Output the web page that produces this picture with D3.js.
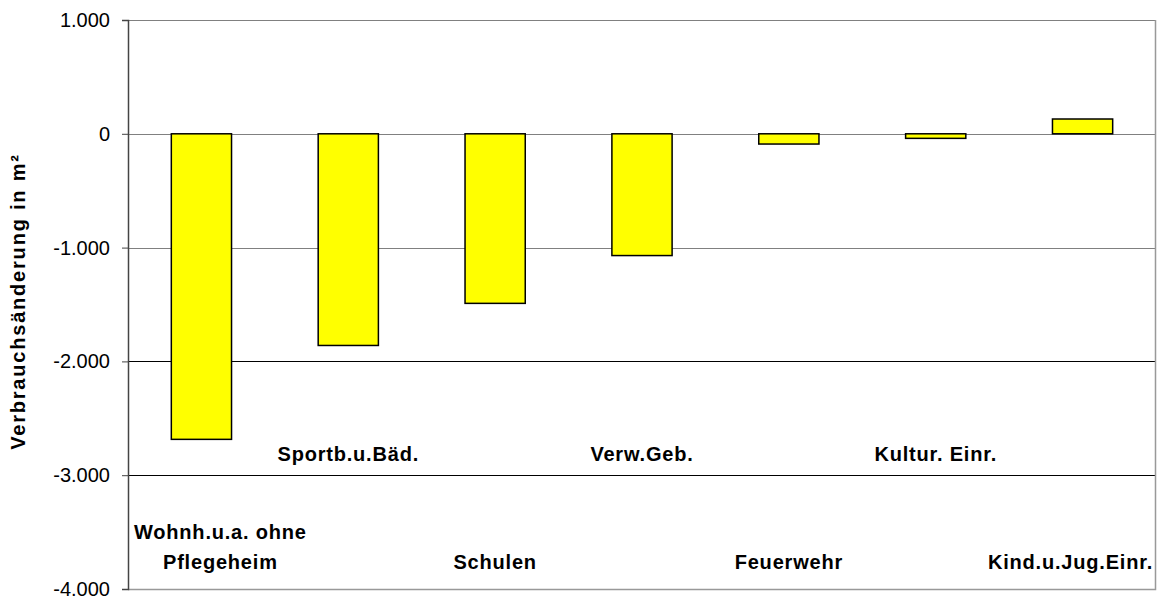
<!DOCTYPE html>
<html>
<head>
<meta charset="utf-8">
<script src="https://cdn.jsdelivr.net/npm/d3@7"></script>
<style>
  body { margin: 0; background: #fff; }
  text { font-family: "Liberation Sans", Arial, sans-serif; }
</style>
</head>
<body>
<div id="chart"></div>
<script>
const categories = [
    ["Wohnh.u.a. ohne", "Pflegeheim"],
    ["Sportb.u.Bäd."],
    ["Schulen"],
    ["Verw.Geb."],
    ["Feuerwehr"],
    ["Kultur. Einr."],
    ["Kind.u.Jug.Einr."]
];
const values = [-2685, -1860, -1490, -1070, -90, -40, 130];
const yTicks = [1000, 0, -1000, -2000, -3000, -4000];

const W = 1160, H = 599;
const margin = { top: 20, right: 4, bottom: 10, left: 128 };
const width = W - margin.left - margin.right;
const height = H - margin.top - margin.bottom;

const svg = d3.select("#chart")
    .append("svg")
    .attr("width", W)
    .attr("height", H);

const g = svg.append("g")
    .attr("transform", `translate(${margin.left},${margin.top})`);

const x = d3.scaleBand()
    .domain(d3.range(categories.length))
    .range([0, width])
    .paddingInner(0.59)
    .paddingOuter(0.295);

const y = d3.scaleLinear()
    .domain([-4000, 1000])
    .range([height, 0]);

const fmt = d3.formatLocale({ decimal: ",", thousands: ".", grouping: [3], currency: ["", "€"], minus: "-" }).format(",.0f");

// gridlines
g.selectAll(".grid")
    .data(yTicks.filter(d => d > -4000))
    .enter()
    .append("line")
    .attr("x1", 0)
    .attr("x2", width)
    .attr("y1", d => Math.round(y(d)) + 0.5)
    .attr("y2", d => Math.round(y(d)) + 0.5)
    .attr("stroke", d => d >= -1000 ? "#808080" : "#000")
    .attr("stroke-width", 1);

// plot border (right + bottom)
g.append("path")
    .attr("d", `M${width - 0.5},0V${Math.round(height) + 0.5}H0`)
    .attr("fill", "none")
    .attr("stroke", "#999")
    .attr("stroke-width", 1.5);

// bars
g.selectAll(".bar")
    .data(values)
    .enter()
    .append("rect")
    .attr("class", "bar")
    .attr("x", (d, i) => x(i))
    .attr("width", x.bandwidth())
    .attr("y", d => y(Math.max(0, d)))
    .attr("height", d => Math.abs(y(d) - y(0)))
    .attr("fill", "#ffff00")
    .attr("stroke", "#000")
    .attr("stroke-width", 1.5);

// y axis
const yAxis = d3.axisLeft(y)
    .tickValues(yTicks)
    .tickSize(6)
    .tickPadding(12)
    .tickFormat(d => fmt(d));

const ya = g.append("g").call(yAxis);
ya.select(".domain").attr("stroke", "#444").attr("stroke-width", 1.5);
ya.selectAll(".tick line").attr("stroke", "#444");
ya.selectAll(".tick text")
    .attr("font-size", 20)
    .attr("font-family", "Liberation Sans, Arial, sans-serif")
    .attr("fill", "#000");

// category labels (staggered like the original)
const lineH = 30;
categories.forEach((lines, i) => {
    const cx = x(i) + x.bandwidth() / 2;
    const lower = i % 2 === 0;
    const lastBase = lower ? 549 : 441;
    const t = g.append("text")
        .attr("text-anchor", "middle")
        .attr("font-size", 20)
        .attr("font-weight", "bold")
        .attr("letter-spacing", 0.8)
        .attr("fill", "#000");
    lines.forEach((ln, j) => {
        t.append("tspan")
            .attr("x", cx)
            .attr("y", lastBase - (lines.length - 1 - j) * lineH)
            .text(ln);
    });
    // keep label inside the plot area
    const bb = t.node().getBBox();
    let shift = 0;
    if (bb.x < 6) shift = 6 - bb.x;
    if (bb.x + bb.width > width - 3) shift = (width - 3) - (bb.x + bb.width);
    t.selectAll("tspan").attr("x", cx + shift);
});

// y axis title
svg.append("text")
    .attr("transform", `translate(25,${margin.top + height / 2 - 3}) rotate(-90)`)
    .attr("text-anchor", "middle")
    .attr("font-size", 20)
    .attr("font-weight", "bold")
    .attr("letter-spacing", 1.8)
    .attr("fill", "#000")
    .text("Verbrauchsänderung in m²");
</script>
</body>
</html>
